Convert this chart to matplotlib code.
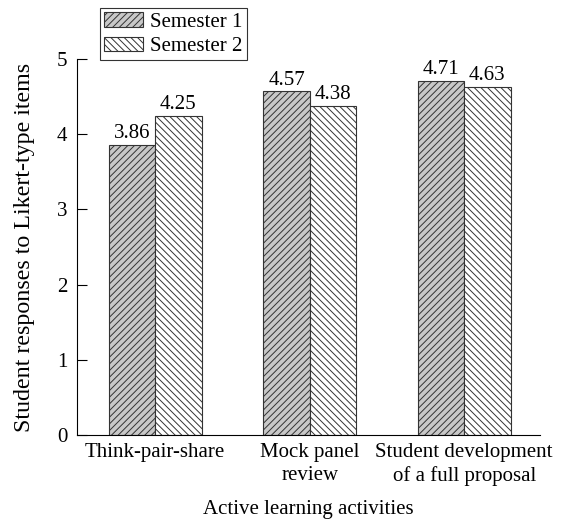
import numpy as np
import matplotlib.pyplot as plt

categories = ['Think-pair-share', 'Mock panel\nreview', 'Student development\nof a full proposal']
semester1 = [3.86, 4.57, 4.71]
semester2 = [4.25, 4.38, 4.63]

plt.rcParams['font.family'] = ['Liberation Serif', 'DejaVu Serif']
plt.rcParams['font.size'] = 15
plt.rcParams['hatch.linewidth'] = 0.7

fig = plt.figure(figsize=(5.63, 5.19), dpi=100)
ax = fig.add_axes([0.137, 0.162, 0.822, 0.724])

x = np.arange(len(categories))
w = 0.3
b1 = ax.bar(x - w / 2, semester1, w, color='#c8c8c8', edgecolor='#333333', linewidth=0.8,
            hatch='/////', label='Semester 1')
b2 = ax.bar(x + w / 2, semester2, w, color='white', edgecolor='#333333', linewidth=0.8,
            hatch='\\\\\\\\\\', label='Semester 2')

for bars, vals in ((b1, semester1), (b2, semester2)):
    for r, v in zip(bars, vals):
        ax.text(r.get_x() + r.get_width() / 2, v + 0.02, f'{v:.2f}', ha='center', va='bottom')

ax.set_xlim(-0.505, 2.49)
ax.set_ylim(0, 5)
ax.set_xticks(x)
ax.set_xticklabels(categories, linespacing=1.25)
ax.tick_params(axis='x', length=0, pad=6)
ax.tick_params(axis='y', direction='in', length=7, pad=7)
ax.spines['top'].set_visible(False)
ax.spines['right'].set_visible(False)
ax.set_ylabel('Student responses to Likert-type items', fontsize=17.3, labelpad=16)
ax.set_xlabel('Active learning activities', labelpad=10)

leg = fig.legend(loc='upper left', bbox_to_anchor=(0.178, 0.985), frameon=True, fancybox=False,
                 edgecolor='black', handlelength=1.85, handleheight=0.7, borderpad=0.2,
                 labelspacing=0.25, handletextpad=0.35, borderaxespad=0)
leg.get_frame().set_linewidth(0.8)

fig.savefig('out.png', dpi=100)
